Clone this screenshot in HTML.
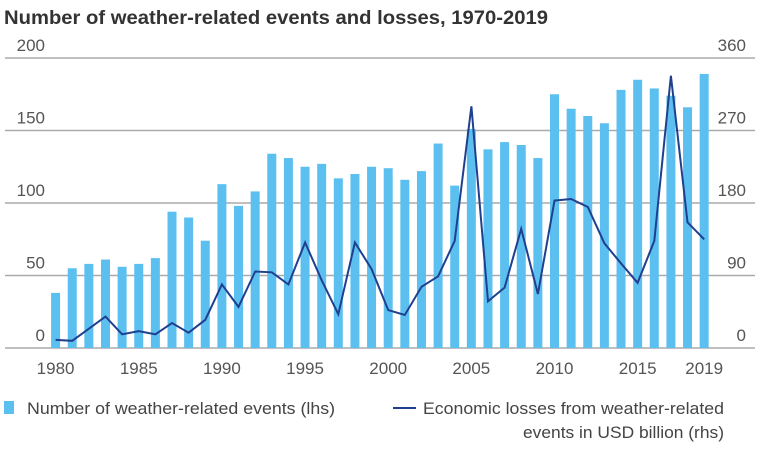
<!DOCTYPE html>
<html><head><meta charset="utf-8"><style>
body{margin:0;background:#fff;}
svg{display:block;font-family:"Liberation Sans",sans-serif;}
</style></head><body>
<svg id="chart" width="765" height="449">
<text x="4" y="24" font-size="19" font-weight="bold" fill="#333" textLength="544" lengthAdjust="spacingAndGlyphs">Number of weather-related events and losses, 1970-2019</text>
<g id="grid"></g><g id="bars"></g><g id="line"></g><g id="axes"></g>
<g font-size="17" fill="#444">
<rect x="4" y="401" width="10" height="13" fill="#5bc0f0"/>
<text x="27" y="414" textLength="308" lengthAdjust="spacingAndGlyphs">Number of weather-related events (lhs)</text>
<line x1="393" y1="408" x2="416" y2="408" stroke="#1f3f8f" stroke-width="2"/>
<text x="423" y="414" textLength="301" lengthAdjust="spacingAndGlyphs">Economic losses from weather-related</text>
<text x="523" y="438" textLength="201" lengthAdjust="spacingAndGlyphs">events in USD billion (rhs)</text>
</g>
</svg>
<script>
const years=[];for(let y=1980;y<=2019;y++)years.push(y);
const events=[38,55,58,61,56,58,62,94,90,74,113,98,108,134,131,125,127,117,120,125,124,116,122,141,112,151,137,142,140,131,175,165,160,155,178,185,179,174,166,189];
const losses=[10,9,24,39,17,21,17,31,19,35,79,51,95,94,79,131,84,42,131,98,47,41,76,89,133,300,58,75,148,67,183,185,175,130,105,81,133,338,156,135];
const leftTicks=[0,50,100,150,200];
const rightTicks=[0,90,180,270,360];
const xTicks=[1980,1985,1990,1995,2000,2005,2010,2015,2019];
const NS="http://www.w3.org/2000/svg";
const x0=55.6,step=16.63,yBase=348,yTop=58;
const xs=y=>x0+(y-1980)*step;
const yl=v=>yBase-v/200*(yBase-yTop);
const yr=v=>yBase-v/360*(yBase-yTop);
function mk(tag,attrs,parent,txt){const e=document.createElementNS(NS,tag);for(const k in attrs)e.setAttribute(k,attrs[k]);if(txt!==undefined)e.textContent=txt;document.getElementById(parent).appendChild(e);return e;}
leftTicks.forEach((t,i)=>{
 const g=mk('line',{x1:5,x2:755,y1:yl(t),y2:yl(t),stroke:'#aaa','stroke-width':1.5},'grid');
 
 
 const l=mk('text',{x:45,y:yl(t)-7,'text-anchor':'end','font-size':17,fill:'#555'},'axes',t);
 
 
 const r=mk('text',{x:746,y:yr(rightTicks[i])-7,'text-anchor':'end','font-size':17,fill:'#555'},'axes',rightTicks[i]);
 
 
});
xTicks.forEach(t=>{
 const l=mk('text',{x:xs(t),y:374,'text-anchor':'middle','font-size':17,fill:'#555'},'axes',t);
 
 
});
years.forEach((y,i)=>{
 const b=mk('rect',{x:xs(y)-4.5,y:yl(events[i]),width:9,height:yBase-yl(events[i]),fill:'#5bc0f0'},'bars');
 
 
});
const pts=years.map((y,i)=>xs(y).toFixed(1)+','+yr(losses[i]).toFixed(1)).join(' ');
const pl=mk('polyline',{points:pts,fill:'none',stroke:'#1f3f8f','stroke-width':2,'stroke-linejoin':'miter'},'line');


</script>
</body></html>
